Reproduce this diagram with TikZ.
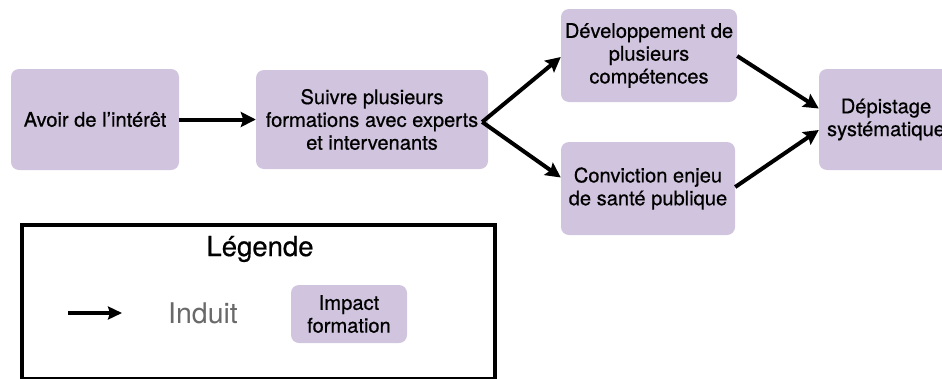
\documentclass[tikz,border=0pt]{standalone}
\usepackage{fontspec}
\setmainfont{TeX Gyre Heros}
\newfontfamily\medfont[FakeBold=0.6]{TeX Gyre Heros}
\usetikzlibrary{arrows.meta,calc}
\definecolor{boxfill}{RGB}{209,196,222}
\definecolor{indgray}{RGB}{105,105,105}
\begin{document}
\begin{tikzpicture}[x=1pt,y=-1pt,
  box/.style={fill=boxfill,rounded corners=8pt,align=center,inner sep=0pt,
    font=\medfont\fontsize{20.1}{22.8}\selectfont},
  arr/.style={line width=4pt,-{Stealth[length=15pt,width=15pt,inset=2.5pt]}}]
\useasboundingbox (0,0) rectangle (942,378);
\node[box,minimum width=168pt,minimum height=101pt] (A) at (95,119.5) {Avoir de l’intérêt};
\node[box,minimum width=232pt,minimum height=99pt] (B) at (372,119.5) {Suivre plusieurs\\formations avec experts\\et intervenants};
\node[box,minimum width=176pt,minimum height=93pt] (C) at (649,55.5) {Développement de\\plusieurs\\compétences};
\node[box,minimum width=174pt,minimum height=93pt] (D) at (648,188.5) {Conviction enjeu\\de santé publique};
\node[box,minimum width=134pt,minimum height=101pt] (E) at (886,119.5) {Dépistage\\systématique};
\coordinate (Bout) at ($(B.east)+(-6,2.5)$);
\draw[arr] (A.east) -- (B.west);
\draw[arr] (Bout) -- ($(C.west)+(0,1.5)$);
\draw[arr] (Bout) -- ($(D.west)+(0,-11)$);
\draw[arr] ($(C.east)+(0,0.5)$) -- ($(E.west)+(0,-11)$);
\draw[arr] ($(D.east)+(0,-1.5)$) -- ($(E.west)+(0,10.5)$);
% legend
\draw[line width=3.6pt] (22,379.2) -- (22,225) -- (495,225) -- (495,379.2) -- cycle;
\node[font=\medfont\fontsize{27.5}{30}\selectfont] (leg) at (260,249) {Légende};
\coordinate (la) at (68,313);
\coordinate (lb) at (122,313);
\draw[line width=3.6pt,-{Stealth[length=14pt,width=13pt,inset=2pt]}] (la) -- (lb);
\node[font=\fontsize{28.5}{30}\selectfont,text=indgray] (ind) at (203,313) {Induit};
\node[box,minimum width=116pt,minimum height=58pt] (imp) at (349,314) {Impact\\formation};
\end{tikzpicture}
\end{document}
